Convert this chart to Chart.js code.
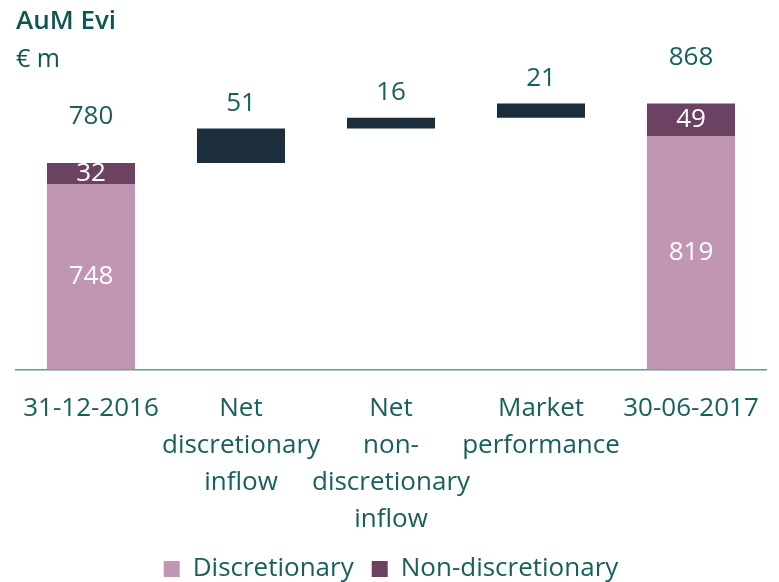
<!DOCTYPE html>
<html>
<head>
<meta charset="utf-8">
<script src="https://cdn.jsdelivr.net/npm/chart.js@4"></script>
<style>
  html, body { margin: 0; padding: 0; background: #fff; }
  #wrap { width: 779px; height: 582px; }
</style>
</head>
<body>
<div id="wrap"><canvas id="chart"></canvas></div>
<script>
// AuM waterfall (€ m)
const categories = [
  '31-12-2016',
  ['Net', 'discretionary', 'inflow'],
  ['Net', 'non-', 'discretionary', 'inflow'],
  ['Market', 'performance'],
  '30-06-2017'
];
const discretionary = [748, null, null, null, 819];
const nonDiscretionary = [32, null, null, null, 49];
const changes = [null, 51, 16, 21, null];
const totals = [780, null, null, null, 868];

const TEXT = '#17605d';
const FONT = '"Open Sans", sans-serif';

// floating ranges for the waterfall steps
let running = 0;
const changeBars = changes.map((v, i) => {
  if (totals[i] != null) { running = totals[i]; return null; }
  const r = [running, running + v];
  running += v;
  return r;
});
const nonDiscBars = nonDiscretionary.map((v, i) => v == null ? null : [discretionary[i], discretionary[i] + v]);

const valueLabels = {
  id: 'valueLabels',
  afterDatasetsDraw(chart) {
    const ctx = chart.ctx;
    const yScale = chart.scales.y;
    ctx.save();
    ctx.font = '26px ' + FONT;
    ctx.textAlign = 'center';
    ctx.textBaseline = 'middle';
    chart.data.datasets.forEach((ds, di) => {
      const meta = chart.getDatasetMeta(di);
      meta.data.forEach((bar, i) => {
        if (ds.data[i] == null) return;
        const x = bar.x;
        if (di === 0) {
          const top = yScale.getPixelForValue(discretionary[i]);
          ctx.fillStyle = '#fff';
          ctx.fillText(discretionary[i], x, (top + chart.chartArea.bottom) / 2);
        } else if (di === 1) {
          const lo = yScale.getPixelForValue(discretionary[i]);
          const hi = yScale.getPixelForValue(totals[i]);
          ctx.fillStyle = '#fff';
          ctx.fillText(nonDiscretionary[i], x, (lo + hi) / 2);
          ctx.fillStyle = TEXT;
          ctx.fillText(totals[i], x, hi - 46);
        } else {
          const hi = yScale.getPixelForValue(Math.max(...ds.data[i]));
          ctx.fillStyle = TEXT;
          ctx.fillText(changes[i], x, hi - 25);
        }
      });
    });
    ctx.restore();
  }
};

new Chart(document.getElementById('chart'), {
  type: 'bar',
  data: {
    labels: categories,
    datasets: [
      { label: 'Discretionary', data: discretionary, backgroundColor: '#c096b4' },
      { label: 'Non-discretionary', data: nonDiscBars, backgroundColor: '#6c4262' },
      { label: 'Change', data: changeBars, backgroundColor: '#1c2d3c' }
    ]
  },
  options: {
    responsive: true,
    maintainAspectRatio: false,
    animation: false,
    layout: { padding: { left: 16, right: 13, top: 0, bottom: -10 } },
    datasets: { bar: { barPercentage: 0.587, categoryPercentage: 1 } },
    plugins: {
      title: {
        display: true, text: 'AuM Evi', align: 'start', color: '#0d5653',
        font: { family: FONT, size: 26, weight: 600 }, padding: { top: 6, bottom: 6 }
      },
      subtitle: {
        display: true, text: '€ m', align: 'start', color: '#0d5653',
        font: { family: FONT, size: 25 }, padding: { top: 2, bottom: 0 }
      },
      legend: {
        position: 'bottom',
        labels: {
          color: TEXT, boxWidth: 16, boxHeight: 16, padding: 18,
          font: { family: FONT, size: 26 },
          filter: item => item.datasetIndex < 2
        }
      },
      tooltip: { enabled: false }
    },
    scales: {
      x: {
        stacked: true,
        grid: { display: false, tickLength: 21 },
        border: { display: true, color: '#6a9694', width: 1.5 },
        ticks: { color: TEXT, padding: 0, maxRotation: 0, autoSkip: false, font: { family: FONT, size: 26, lineHeight: 1.42 } }
      },
      y: { display: false, stacked: false, min: 474, max: 910 }
    }
  },
  plugins: [valueLabels]
});
</script>
</body>
</html>
